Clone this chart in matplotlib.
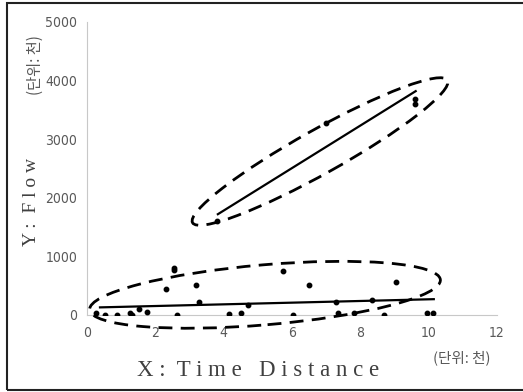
import numpy as np
import matplotlib
matplotlib.use("Agg")
import matplotlib.pyplot as plt
from matplotlib.patches import Ellipse, Rectangle
from matplotlib.transforms import IdentityTransform

# low-flow group (x in thousands, y in thousands)
low_x = [0.25, 0.53, 0.87, 1.26, 1.33, 1.53, 1.77, 2.30, 2.55, 2.55, 2.63, 3.19, 3.28, 4.16,
         4.51, 4.72, 5.74, 6.03, 6.49, 7.28, 7.36, 7.82, 8.33, 8.68, 9.04, 9.95, 10.13]
low_y = [30, 0, 0, 30, 0, 100, 45, 440, 760, 800, 0, 510, 230, 10,
         30, 165, 750, 0, 520, 230, 30, 40, 255, 0, 570, 30, 30]

# high-flow group
high_x = [3.8, 7.0, 9.6, 9.6]
high_y = [1600, 3280, 3680, 3600]

# trend lines (start/end x and y)
low_trend_x = [0.38, 10.15]
low_trend_y = [130, 270]
high_trend_x = [3.83, 9.62]
high_trend_y = [1720, 3820]

x_ticks = [0, 2, 4, 6, 8, 10, 12]
y_ticks = [0, 1000, 2000, 3000, 4000, 5000]

kr_font = ["Noto Sans CJK KR", "DejaVu Sans"]

fig = plt.figure(figsize=(5.23, 3.92), dpi=100)
ax = fig.add_axes([87 / 523, 77 / 392, 410 / 523, 293 / 392])

ax.set_xlim(0, 12)
ax.set_ylim(0, 5000)
ax.set_xticks(x_ticks)
ax.set_yticks(y_ticks)
ax.tick_params(length=0, labelsize=10, labelcolor="#595959")
ax.tick_params(axis="y", pad=7)
ax.tick_params(axis="x", pad=8)
for lab in ax.get_xticklabels() + ax.get_yticklabels():
    lab.set_fontstretch("condensed")
for side in ["top", "right"]:
    ax.spines[side].set_visible(False)
for side in ["left", "bottom"]:
    ax.spines[side].set_color("#c8c8c8")
    ax.spines[side].set_linewidth(0.8)

ax.plot(low_x, low_y, "o", color="black", markersize=3.2, zorder=3)
ax.plot(high_x, high_y, "o", color="black", markersize=3.2, zorder=3)
ax.plot(low_trend_x, low_trend_y, color="black", linewidth=1.6, zorder=3)
ax.plot(high_trend_x, high_trend_y, color="black", linewidth=1.6, zorder=3)

# dashed rings around each group (size in pixels)
rings = [((5.21, 345), 352, 60, 4.9), ((6.82, 2790), 292, 44, 29.2)]
for (cx, cy), w, h, ang in rings:
    px, py = ax.transData.transform((cx, cy))
    ax.add_patch(Ellipse((px, py), w, h, angle=ang, transform=IdentityTransform(),
                         fill=False, edgecolor="black", linewidth=2.0,
                         linestyle=(0, (5, 3)), zorder=4, clip_on=False))

# axis titles
fig.text(258 / 523, 1 - 371 / 392, "X :  T i m e   D i s t a n c e", ha="center", va="center",
         family="Liberation Serif", fontsize=16.5, color="#404040")
fig.text(31 / 523, 1 - 202 / 392, "Y :  F l o w", ha="center", va="center", rotation=90,
         family="Liberation Serif", fontsize=14, color="#404040")
fig.text(35 / 523, 1 - 65 / 392, "(단위: 천)", ha="center", va="center", rotation=90,
         family=kr_font, fontsize=11, color="#595959")
fig.text(462 / 523, 1 - 358 / 392, "(단위: 천)", ha="center", va="center",
         family=kr_font, fontsize=10.5, color="#595959")

# outer frame
fig.add_artist(Rectangle((7 / 523, 2 / 392), 1.2, 1 - 5 / 392, transform=fig.transFigure,
                         fill=False, edgecolor="#222222", linewidth=1.5))

fig.savefig("out.png", dpi=100)
